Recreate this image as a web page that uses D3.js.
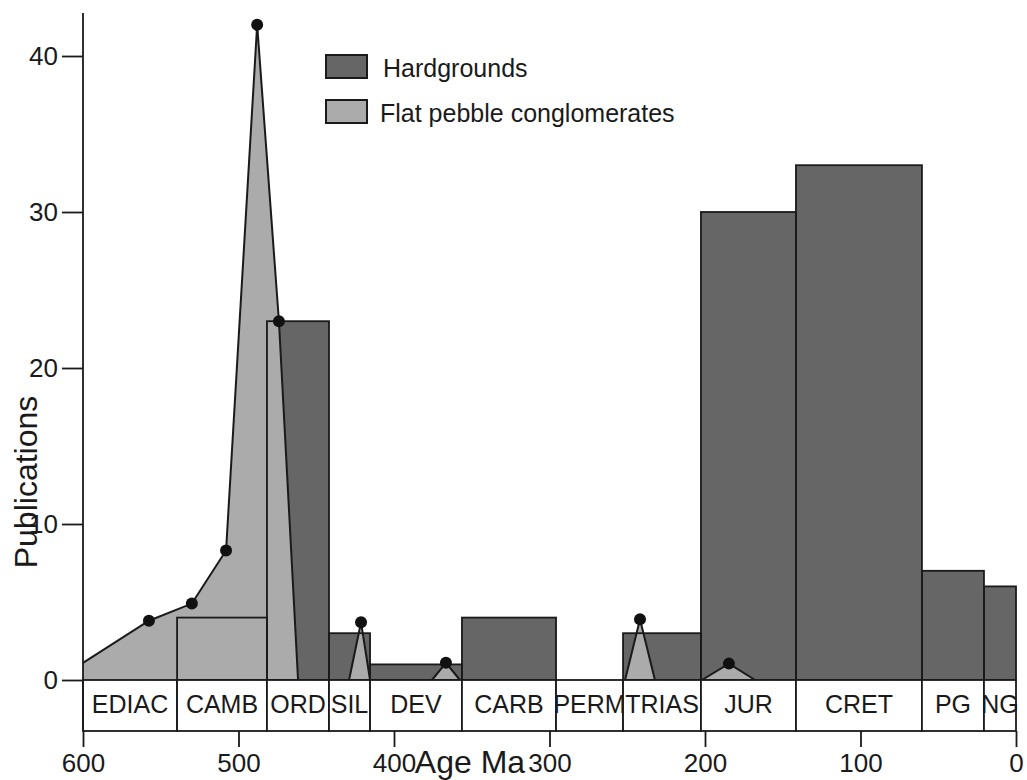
<!DOCTYPE html>
<html>
<head>
<meta charset="utf-8">
<script src="https://cdn.jsdelivr.net/npm/d3@7"></script>
<style>
  body { margin: 0; background: #fff; }
  svg text { font-family: "Liberation Sans", Arial, sans-serif; fill: #1a1a1a; }
</style>
</head>
<body>
<svg id="chart" width="1027" height="780"></svg>
<script>
// Geological periods (ages in Ma)
const periods = ["EDIAC", "CAMB", "ORD", "SIL", "DEV", "CARB", "PERM", "TRIAS", "JUR", "CRET", "PG", "NG"];
const periodStart = [600, 539.5, 481.7, 441.8, 415.4, 356.3, 295.8, 252.7, 202.6, 141.5, 60.5, 20.6];
const periodEnd = [539.5, 481.7, 441.8, 415.4, 356.3, 295.8, 252.7, 202.6, 141.5, 60.5, 20.6, 0];

// Hardground publications per period
const hardgrounds = [0, 4, 23, 3, 1, 4, 0, 3, 30, 33, 7, 6];

// Flat pebble conglomerates, main Neoproterozoic-Ordovician curve
const fpcAges = [600, 557.6, 530, 508, 488, 474, 461.7];
const fpcCounts = [1.1, 3.8, 4.9, 8.3, 42, 23, 0];

// Flat pebble conglomerates, small peaks later on
const spikeLeft = [428.9, 375.6, 251.4, 202];
const spikePeak = [421.2, 366.6, 241.8, 184.6];
const spikeRight = [415.4, 357.6, 232.2, 167.8];
const spikeCounts = [3.7, 1.1, 3.9, 1.05];

const xTicks = [600, 500, 400, 300, 200, 100, 0];
const yTicks = [0, 10, 20, 30, 40];

const darkFill = "#666666";
const lightFill = "#ababab";
const ink = "#1a1a1a";

const svg = d3.select("#chart");

// Scales
const x = d3.scaleLinear().domain([600, 0]).range([83, 1016]);
const y = d3.scaleLinear().domain([0, 40]).range([680, 56]);
const stripBottom = 731;

const g = svg.append("g");

// Hardground bar fills (drawn first, under the conglomerate polygons)
const bars = periods.map((p, i) => ({ p, a0: periodStart[i], a1: periodEnd[i], n: hardgrounds[i] }))
    .filter(d => d.n > 0);

g.selectAll(".bar-fill")
    .data(bars)
    .join("rect")
    .attr("class", "bar-fill")
    .attr("x", d => x(d.a0))
    .attr("width", d => x(d.a1) - x(d.a0))
    .attr("y", d => y(d.n))
    .attr("height", d => y(0) - y(d.n))
    .attr("fill", darkFill);

// Flat pebble polygons
const area = d3.area()
    .x(d => x(d.age))
    .y0(y(0))
    .y1(d => y(d.n));
const line = d3.line()
    .x(d => x(d.age))
    .y(d => y(d.n));

const mainCurve = fpcAges.map((a, i) => ({ age: a, n: fpcCounts[i] }));
const spikes = spikeLeft.map((a, i) => [
    { age: a, n: 0 },
    { age: spikePeak[i], n: spikeCounts[i] },
    { age: spikeRight[i], n: 0 }
]);
const shapes = [mainCurve].concat(spikes);

g.selectAll(".fpc-area")
    .data(shapes)
    .join("path")
    .attr("class", "fpc-area")
    .attr("d", area)
    .attr("fill", lightFill);

g.selectAll(".fpc-line")
    .data(shapes)
    .join("path")
    .attr("class", "fpc-line")
    .attr("d", line)
    .attr("fill", "none")
    .attr("stroke", ink)
    .attr("stroke-width", 2);

// Hardground bar outlines on top
g.selectAll(".bar-line")
    .data(bars)
    .join("rect")
    .attr("class", "bar-line")
    .attr("x", d => x(d.a0))
    .attr("width", d => x(d.a1) - x(d.a0))
    .attr("y", d => y(d.n))
    .attr("height", d => y(0) - y(d.n))
    .attr("fill", "none")
    .attr("stroke", ink)
    .attr("stroke-width", 1.8);

// Dots on the conglomerate points
const dots = mainCurve.slice(1, -1).concat(spikes.map(s => s[1]));
g.selectAll(".dot")
    .data(dots)
    .join("circle")
    .attr("class", "dot")
    .attr("cx", d => x(d.age))
    .attr("cy", d => y(d.n))
    .attr("r", 6)
    .attr("fill", "#111");

// Period strip
const strip = g.selectAll(".period")
    .data(periods.map((p, i) => ({ p, a0: periodStart[i], a1: periodEnd[i] })))
    .join("g")
    .attr("class", "period");

strip.append("rect")
    .attr("x", d => x(d.a0))
    .attr("width", d => x(d.a1) - x(d.a0))
    .attr("y", y(0))
    .attr("height", stripBottom - y(0))
    .attr("fill", "#fff")
    .attr("stroke", ink)
    .attr("stroke-width", 1.8);

strip.append("text")
    .attr("x", d => (x(d.a0) + x(d.a1)) / 2)
    .attr("y", 713)
    .attr("text-anchor", "middle")
    .style("font-size", "25px")
    .text(d => d.p);

// Axes
const xAxis = svg.append("g")
    .attr("transform", `translate(0,${stripBottom})`)
    .call(d3.axisBottom(x).tickValues(xTicks).tickSize(16).tickSizeOuter(0).tickPadding(7).tickFormat(d3.format("d")));
xAxis.select(".domain").remove();
xAxis.selectAll("line").attr("stroke", ink).attr("stroke-width", 1.8);
xAxis.selectAll("text").style("font-size", "26px").attr("fill", ink);

const yAxis = svg.append("g")
    .attr("transform", "translate(83,0)")
    .call(d3.axisLeft(y).tickValues(yTicks).tickSize(21).tickSizeOuter(0).tickPadding(4));
yAxis.select(".domain").remove();
yAxis.selectAll("line").attr("stroke", ink).attr("stroke-width", 1.8);
yAxis.selectAll("text").style("font-size", "26px").attr("fill", ink);

svg.append("line")
    .attr("x1", 83).attr("x2", 83)
    .attr("y1", 13).attr("y2", stripBottom)
    .attr("stroke", ink)
    .attr("stroke-width", 1.8);

// Axis titles
svg.append("text")
    .attr("x", 470)
    .attr("y", 773)
    .attr("text-anchor", "middle")
    .style("font-size", "32px")
    .text("Age Ma");

svg.append("text")
    .attr("transform", "translate(37,482) rotate(-90)")
    .attr("text-anchor", "middle")
    .style("font-size", "32px")
    .text("Publications");

// Legend
const legendItems = ["Hardgrounds", "Flat pebble conglomerates"];
const legendColors = [darkFill, lightFill];
const legend = svg.append("g").attr("transform", "translate(326,55)");
legendItems.forEach((name, i) => {
    legend.append("rect")
        .attr("x", 0)
        .attr("y", i * 45)
        .attr("width", 41)
        .attr("height", 23)
        .attr("fill", legendColors[i])
        .attr("stroke", ink)
        .attr("stroke-width", 2);
    legend.append("text")
        .attr("x", i === 0 ? 57 : 54)
        .attr("y", i * 45 + 22)
        .style("font-size", "25px")
        .text(name);
});
</script>
</body>
</html>
